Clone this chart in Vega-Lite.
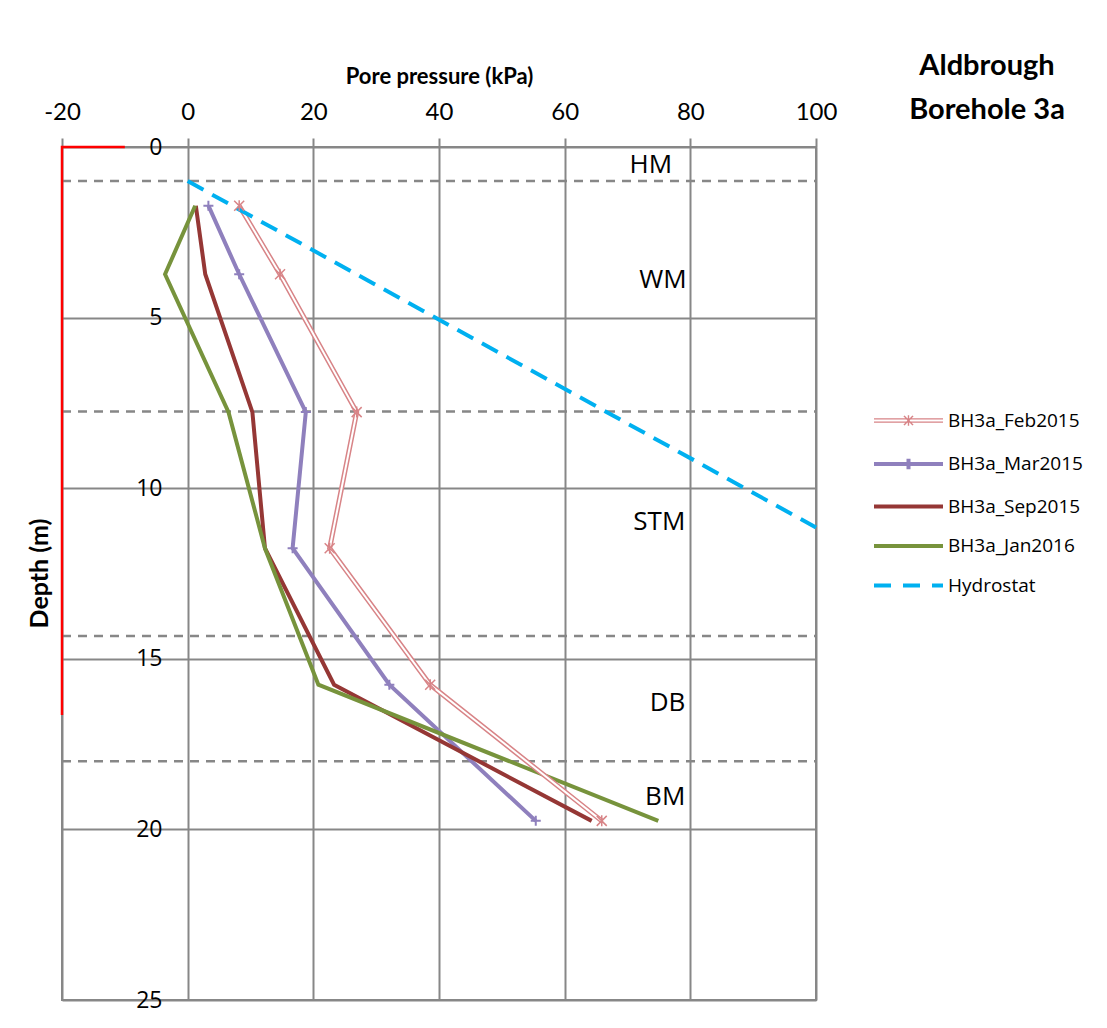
{
  "$schema": "https://vega.github.io/schema/vega-lite/v6.json",
  "width": 754,
  "height": 853,
  "autosize": {"type": "none"},
  "padding": {"left": 62, "top": 147, "right": 291, "bottom": 28},
  "background": "white",
  "config": {"view": {"stroke": "#878787", "strokeWidth": 2}},
  "title": {
    "text": ["Aldbrough", "Borehole 3a"],
    "orient": "top",
    "anchor": "end",
    "frame": "group",
    "align": "center",
    "dx": 171,
    "dy": 64,
    "font": "Lato",
    "fontSize": 29,
    "fontWeight": "bold",
    "lineHeight": 44,
    "color": "#000000"
  },
  "datasets": {
    "series": [
      {"series": "BH3a_Feb2015", "p": 8.2, "d": 1.72},
      {"series": "BH3a_Feb2015", "p": 14.7, "d": 3.73},
      {"series": "BH3a_Feb2015", "p": 26.9, "d": 7.77},
      {"series": "BH3a_Feb2015", "p": 22.6, "d": 11.76},
      {"series": "BH3a_Feb2015", "p": 38.6, "d": 15.76},
      {"series": "BH3a_Feb2015", "p": 65.9, "d": 19.75},
      {"series": "BH3a_Mar2015", "p": 3.3, "d": 1.72},
      {"series": "BH3a_Mar2015", "p": 8.2, "d": 3.73},
      {"series": "BH3a_Mar2015", "p": 18.8, "d": 7.77},
      {"series": "BH3a_Mar2015", "p": 16.7, "d": 11.76},
      {"series": "BH3a_Mar2015", "p": 32.1, "d": 15.76},
      {"series": "BH3a_Mar2015", "p": 55.4, "d": 19.75},
      {"series": "BH3a_Sep2015", "p": 1.3, "d": 1.72},
      {"series": "BH3a_Sep2015", "p": 2.8, "d": 3.73},
      {"series": "BH3a_Sep2015", "p": 10.3, "d": 7.77},
      {"series": "BH3a_Sep2015", "p": 12.3, "d": 11.76},
      {"series": "BH3a_Sep2015", "p": 23.3, "d": 15.76},
      {"series": "BH3a_Sep2015", "p": 64.3, "d": 19.75},
      {"series": "BH3a_Jan2016", "p": 1.2, "d": 1.72},
      {"series": "BH3a_Jan2016", "p": -3.6, "d": 3.73},
      {"series": "BH3a_Jan2016", "p": 6.5, "d": 7.77},
      {"series": "BH3a_Jan2016", "p": 12.3, "d": 11.76},
      {"series": "BH3a_Jan2016", "p": 20.8, "d": 15.76},
      {"series": "BH3a_Jan2016", "p": 74.9, "d": 19.75},
      {"series": "Hydrostat", "p": 0, "d": 1.0},
      {"series": "Hydrostat", "p": 100, "d": 11.15}
    ],
    "zones": [
      {"p": -20, "p2": 100, "d": 1.0},
      {"p": -20, "p2": 100, "d": 7.75},
      {"p": -20, "p2": 100, "d": 14.33},
      {"p": -20, "p2": 100, "d": 18.0}
    ],
    "boundary": [
      {"i": 0, "p": -10, "d": 0},
      {"i": 1, "p": -20, "d": 0},
      {"i": 2, "p": -20, "d": 16.65}
    ],
    "labels": [
      {"label": "HM", "p": 77.1, "d": 0.53},
      {"label": "WM", "p": 79.4, "d": 3.9},
      {"label": "STM", "p": 79.2, "d": 11.0},
      {"label": "DB", "p": 79.2, "d": 16.3},
      {"label": "BM", "p": 79.2, "d": 19.05}
    ]
  },
  "encoding": {
    "x": {
      "field": "p",
      "type": "quantitative",
      "scale": {"domain": [-20, 100], "nice": false, "zero": false},
      "axis": {
        "orient": "top",
        "values": [-20, 0, 20, 40, 60, 80, 100],
        "labelExpr": "'' + datum.value",
        "labelFlush": false,
        "labelOverlap": false,
        "title": "Pore pressure (kPa)",
        "titleFont": "Lato",
        "titleFontSize": 22,
        "titleFontWeight": "bold",
        "titleColor": "#000000",
        "titlePadding": 12,
        "labelFont": "Lato",
        "labelFontSize": 24,
        "labelColor": "#000000",
        "labelPadding": 14,
        "ticks": true,
        "tickSize": 9,
        "tickColor": "#878787",
        "tickWidth": 2,
        "domain": false,
        "grid": true,
        "gridColor": "#878787",
        "gridWidth": 2,
        "gridOpacity": 1
      }
    },
    "y": {
      "field": "d",
      "type": "quantitative",
      "scale": {"domain": [0, 25], "reverse": true, "nice": false, "zero": false},
      "axis": {
        "orient": "left",
        "offset": -126,
        "values": [0, 5, 10, 15, 20, 25],
        "labelFlush": false,
        "labelOverlap": false,
        "title": "Depth (m)",
        "titleFont": "Lato",
        "titleFontSize": 25,
        "titleFontWeight": "bold",
        "titleColor": "#000000",
        "titleX": -136,
        "titleY": 426,
        "labelFont": "Open Sans",
        "labelFontSize": 23,
        "labelColor": "#000000",
        "labelPadding": 26,
        "ticks": false,
        "domain": false,
        "grid": true,
        "gridColor": "#878787",
        "gridWidth": 2,
        "gridOpacity": 1
      }
    }
  },
  "layer": [
    {
      "data": {"name": "zones"},
      "mark": {"type": "rule", "color": "#878787", "strokeWidth": 2.5, "strokeDash": [9, 7]},
      "encoding": {"x2": {"field": "p2"}}
    },
    {
      "data": {"name": "boundary"},
      "mark": {"type": "line", "color": "#ff0000", "strokeWidth": 2.5},
      "encoding": {"order": {"field": "i", "type": "quantitative"}}
    },
    {
      "data": {"name": "series"},
      "transform": [{"filter": "datum.series !== 'BH3a_Feb2015' && datum.series !== 'Hydrostat'"}],
      "mark": {"type": "line", "strokeWidth": 4},
      "encoding": {
        "order": {"field": "d", "type": "quantitative"},
        "color": {
          "field": "series",
          "type": "nominal",
          "scale": {
            "domain": ["BH3a_Feb2015", "BH3a_Mar2015", "BH3a_Sep2015", "BH3a_Jan2016", "Hydrostat"],
            "range": ["#d88487", "#8f80bd", "#953735", "#77933c", "#00b0f0"]
          },
          "legend": {
            "orient": "none",
            "legendX": 837,
            "legendY": 264,
            "title": null,
            "padding": 0,
            "symbolType": "M-3,0H3",
            "symbolSize": 529,
            "symbolStrokeWidth": 4,
            "labelFont": "Open Sans",
            "labelFontSize": 19,
            "labelColor": "#000000",
            "labelOffset": 30,
            "rowPadding": 19.5,
            "encode": {
              "symbols": {
                "update": {
                  "fill": {"value": "transparent"},
                  "shape": {"signal": "datum.value === 'BH3a_Feb2015' ? 'M-3,-0.14H3M-3,0.14H3M-0.4,-0.4L0.4,0.4M-0.4,0.4L0.4,-0.4M0,-0.45V0.45' : datum.value === 'BH3a_Mar2015' ? 'M-3,0H3M0,-0.45V0.45' : 'M-3,0H3'"},
                  "strokeWidth": {"signal": "datum.value === 'BH3a_Feb2015' ? 1.4 : 4"},
                  "strokeDash": {"signal": "datum.value === 'Hydrostat' ? [17, 12] : [1, 0]"}
                }
              }
            }
          }
        }
      }
    },
    {
      "data": {"name": "series"},
      "transform": [{"filter": "datum.series === 'BH3a_Feb2015'"}],
      "mark": {"type": "line", "strokeWidth": 5},
      "encoding": {
        "order": {"field": "d", "type": "quantitative"},
        "color": {"field": "series", "type": "nominal"}
      }
    },
    {
      "data": {"name": "series"},
      "transform": [{"filter": "datum.series === 'BH3a_Feb2015'"}],
      "mark": {"type": "line", "strokeWidth": 2, "color": "#ffffff"},
      "encoding": {"order": {"field": "d", "type": "quantitative"}}
    },
    {
      "data": {"name": "series"},
      "transform": [{"filter": "datum.series === 'Hydrostat'"}],
      "mark": {"type": "line", "strokeWidth": 4, "strokeDash": [18, 10]},
      "encoding": {
        "order": {"field": "d", "type": "quantitative"},
        "color": {"field": "series", "type": "nominal"}
      }
    },
    {
      "data": {"name": "series"},
      "transform": [{"filter": "datum.series === 'BH3a_Feb2015'"}],
      "mark": {"type": "point", "shape": "M-1,-1L1,1M-1,1L1,-1M0,-1.1V1.1", "size": 100, "filled": false, "strokeWidth": 1.5, "color": "#d88487", "opacity": 1}
    },
    {
      "data": {"name": "series"},
      "transform": [{"filter": "datum.series === 'BH3a_Mar2015'"}],
      "mark": {"type": "point", "shape": "M-1,0H1M0,-1V1", "size": 100, "filled": false, "strokeWidth": 2, "color": "#8f80bd", "opacity": 1}
    },
    {
      "data": {"name": "labels"},
      "mark": {"type": "text", "font": "Open Sans", "fontSize": 26, "align": "right", "baseline": "middle", "color": "#000000"},
      "encoding": {"text": {"field": "label", "type": "nominal"}}
    }
  ]
}
